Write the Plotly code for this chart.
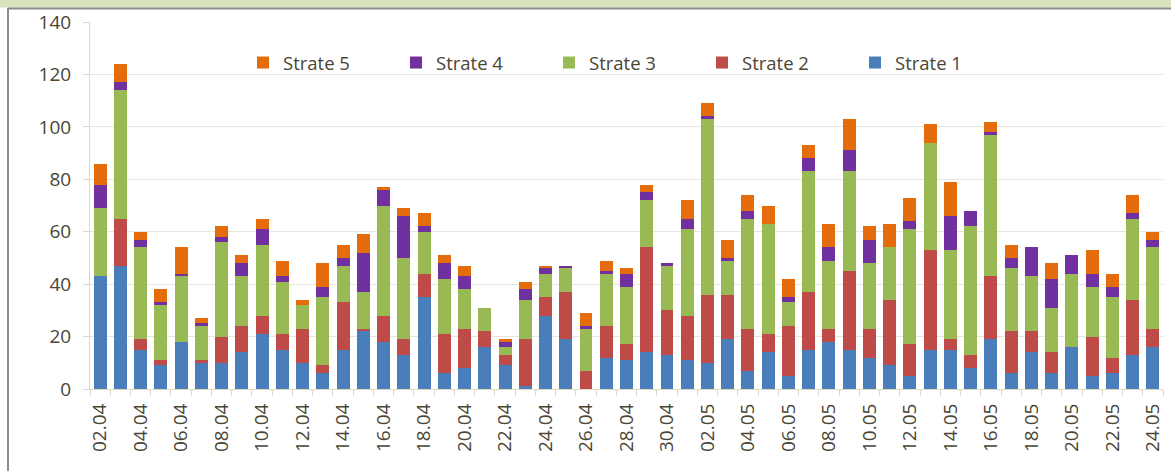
import plotly.graph_objects as go

dates = ["02.04", "03.04", "04.04", "05.04", "06.04", "07.04", "08.04", "09.04", "10.04", "11.04",
         "12.04", "13.04", "14.04", "15.04", "16.04", "17.04", "18.04", "19.04", "20.04", "21.04",
         "22.04", "23.04", "24.04", "25.04", "26.04", "27.04", "28.04", "29.04", "30.04", "01.05",
         "02.05", "03.05", "04.05", "05.05", "06.05", "07.05", "08.05", "09.05", "10.05", "11.05",
         "12.05", "13.05", "14.05", "15.05", "16.05", "17.05", "18.05", "19.05", "20.05", "21.05",
         "22.05", "23.05", "24.05"]

strate1 = [43, 47, 15, 9, 18, 10, 10, 14, 21, 15, 10, 6, 15, 22, 18, 13, 35, 6, 8, 16,
           9, 1, 28, 19, 0, 12, 11, 14, 13, 11, 10, 19, 7, 14, 5, 15, 18, 15, 12, 9,
           5, 15, 15, 8, 19, 6, 14, 6, 16, 5, 6, 13, 16]
strate2 = [0, 18, 4, 2, 0, 1, 10, 10, 7, 6, 13, 3, 18, 1, 10, 6, 9, 15, 15, 6,
           4, 18, 7, 18, 7, 12, 6, 40, 17, 17, 26, 17, 16, 7, 19, 22, 5, 30, 11, 25,
           12, 38, 4, 5, 24, 16, 8, 8, 0, 15, 6, 21, 7]
strate3 = [26, 49, 35, 21, 25, 13, 36, 19, 27, 20, 9, 26, 14, 14, 42, 31, 16, 21, 15, 9,
           3, 15, 9, 9, 16, 20, 22, 18, 17, 33, 67, 13, 42, 42, 9, 46, 26, 38, 25, 20,
           44, 41, 34, 49, 54, 24, 21, 17, 28, 19, 23, 31, 31]
strate4 = [9, 3, 3, 1, 1, 1, 2, 5, 6, 2, 0, 4, 3, 15, 6, 16, 2, 6, 5, 0,
           2, 4, 2, 1, 1, 1, 5, 3, 1, 4, 1, 1, 3, 0, 2, 5, 5, 8, 9, 0,
           3, 0, 13, 6, 1, 4, 11, 11, 7, 5, 4, 2, 3]
strate5 = [8, 7, 3, 5, 10, 2, 4, 3, 4, 6, 2, 9, 5, 7, 1, 3, 5, 3, 4, 0,
           1, 3, 1, 0, 5, 4, 2, 3, 0, 7, 5, 7, 6, 7, 7, 5, 9, 12, 5, 9,
           9, 7, 13, 0, 4, 5, 0, 6, 0, 9, 5, 7, 3]

series = [
    ("Strate 1", strate1, "#4a7ebb"),
    ("Strate 2", strate2, "#be4b48"),
    ("Strate 3", strate3, "#98b954"),
    ("Strate 4", strate4, "#7030a0"),
    ("Strate 5", strate5, "#e46c0a"),
]

idx = list(range(len(dates)))
text_color = "#4a4534"
grid_color = "#e8e6da"
axis_color = "#ddd9c3"
FONT = "Open Sans"

fig = go.Figure()
for name, vals, col in series:
    fig.add_trace(go.Bar(
        x=idx, y=vals, name=name,
        marker=dict(color=col, line=dict(width=0)),
    ))

W, H = 1171, 471
L, R, T, B = 90, 8, 22, 82
pw, ph = W - L - R, H - T - B

def px2x(p):
    return (p - L) / pw

def py2y(p):
    return (H - B - p) / ph

fig.update_layout(
    width=W, height=H,
    barmode="stack", bargap=0.36,
    paper_bgcolor="white", plot_bgcolor="white",
    margin=dict(l=L, r=R, t=T, b=B, autoexpand=False),
    font=dict(family=FONT, size=19, color=text_color),
    showlegend=True,
    legend=dict(
        orientation="h", traceorder="reversed",
        x=px2x(243), xanchor="left",
        y=py2y(63), yanchor="middle",
        entrywidth=108, entrywidthmode="pixels",
        font=dict(family=FONT, size=18.5, color=text_color),
        bgcolor="rgba(0,0,0,0)",
        itemclick=False,
    ),
    xaxis=dict(
        range=[-0.5, len(dates) - 0.5],
        tickmode="array",
        tickvals=idx[::2], ticktext=dates[::2],
        tickangle=-90,
        ticks="outside", ticklen=0,
        ticklabelstandoff=6,
        tickfont=dict(family=FONT, size=19, color=text_color),
        showgrid=False, zeroline=False,
        showline=True, linecolor=axis_color, linewidth=1,
        minor=dict(tickmode="array",
                   tickvals=[i - 0.5 for i in idx] + [len(dates) - 0.5],
                   ticks="outside", ticklen=6, tickcolor=axis_color, showgrid=False),
    ),
    yaxis=dict(
        range=[0, 140], dtick=20,
        ticks="outside", ticklen=6, tickcolor=axis_color,
        ticklabelstandoff=8,
        tickfont=dict(family=FONT, size=19, color=text_color),
        showgrid=True, gridcolor=grid_color, gridwidth=1,
        zeroline=False,
        showline=True, linecolor=axis_color, linewidth=1,
    ),
    shapes=[
        dict(type="rect", xref="paper", yref="paper",
             x0=px2x(0), x1=px2x(W), y0=py2y(7.5), y1=py2y(0),
             fillcolor="#d7e4bd", line=dict(width=0), layer="below"),
        dict(type="line", xref="paper", yref="paper",
             x0=px2x(8), x1=px2x(W), y0=py2y(8.5), y1=py2y(8.5),
             line=dict(color="#8c8c8c", width=2), layer="below"),
        dict(type="line", xref="paper", yref="paper",
             x0=px2x(8), x1=px2x(8), y0=py2y(8), y1=py2y(H),
             line=dict(color="#8c8c8c", width=2), layer="below"),
    ],
)

fig.write_html(
    "out.html",
    config={"displayModeBar": False},
    post_script="document.body.style.margin='0';document.body.style.overflow='hidden';",
)
